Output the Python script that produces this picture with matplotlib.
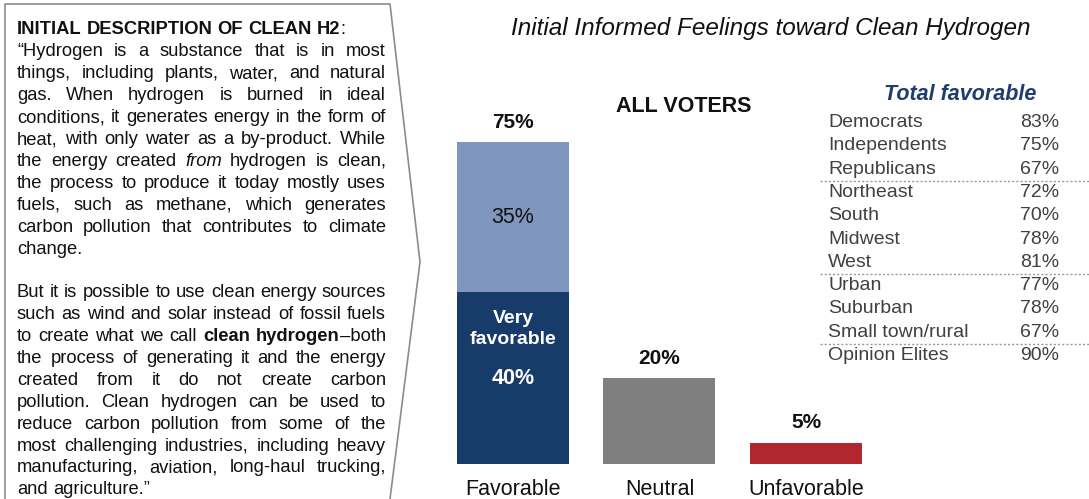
import re
import matplotlib
matplotlib.use("Agg")
import matplotlib.pyplot as plt

plt.rcParams['font.family'] = ['Liberation Sans', 'DejaVu Sans']

W, H = 1089, 499

# bar data (percent)
categories = ["Favorable", "Neutral", "Unfavorable"]
very_favorable = 40
somewhat_favorable = 35
neutral = 20
unfavorable = 5

# subgroup table (total favorable)
groups = ["Democrats", "Independents", "Republicans", "Northeast", "South",
          "Midwest", "West", "Urban", "Suburban", "Small town/rural", "Opinion Elites"]
group_fav = [83, 75, 67, 72, 70, 78, 81, 77, 78, 67, 90]
group_breaks = [3, 7, 10]   # dotted line before these rows

# description text; *x* = italic, **x** = bold (per word), None = blank line
desc_lines = [
    ("**INITIAL** **DESCRIPTION** **OF** **CLEAN** **H2**:", False),
    ("\u201cHydrogen is a substance that is in most", True),
    ("things, including plants, water, and natural", True),
    ("gas. When hydrogen is burned in ideal", True),
    ("conditions, it generates energy in the form of", True),
    ("heat, with only water as a by-product. While", True),
    ("the energy created *from* hydrogen is clean,", True),
    ("the process to produce it today mostly uses", True),
    ("fuels, such as methane, which generates", True),
    ("carbon pollution that contributes to climate", True),
    ("change.", False),
    (None, False),
    ("But it is possible to use clean energy sources", True),
    ("such as wind and solar instead of fossil fuels", True),
    ("to create what we call **clean** **hydrogen**\u2013both", True),
    ("the process of generating it and the energy", True),
    ("created from it do not create carbon", True),
    ("pollution. Clean hydrogen can be used to", True),
    ("reduce carbon pollution from some of the", True),
    ("most challenging industries, including heavy", True),
    ("manufacturing, aviation, long-haul trucking,", True),
    ("and agriculture.\u201d", False),
]

C_LIGHT = "#7F96BE"
C_NAVY = "#173C6A"
C_GREY = "#7F7F7F"
C_RED = "#B2272D"
C_TXT = "#404040"

fig = plt.figure(figsize=(W / 100, H / 100), dpi=100)
renderer = fig.canvas.get_renderer()


def fx(x):
    return x / W


def fy(y):
    return 1 - y / H


# --- outline box with arrow point ---
fig.add_artist(plt.Line2D([fx(5), fx(5), fx(390), fx(420), fx(390)],
                          [fy(499), fy(4), fy(4), fy(262), fy(499)],
                          color="#8C8C8C", lw=1.2))

# --- justified description text ---
FS = 13.2
STYLES = {"n": dict(), "b": dict(fontweight="bold"), "i": dict(fontstyle="italic")}


def parse_word(w):
    segs = []
    for m in re.findall(r"\*\*[^*]+\*\*|\*[^*]+\*|[^*]+", w):
        if m.startswith("**"):
            segs.append((m[2:-2], "b"))
        elif m.startswith("*"):
            segs.append((m[1:-1], "i"))
        else:
            segs.append((m, "n"))
    return segs


def seg_width(t, st):
    tx = fig.text(0, 0, t, fontsize=FS, **STYLES[st])
    w = tx.get_window_extent(renderer).width
    tx.remove()
    return w


space_w = seg_width("a a", "n") - seg_width("aa", "n")
x_left, x_right = 17, 386
y0, dy = 28, 21.9
for k, (line, just) in enumerate(desc_lines):
    if line is None:
        continue
    yb = y0 + k * dy + 6.5
    words = [parse_word(w) for w in line.split(" ")]
    widths = [[seg_width(t, st) for t, st in wd] for wd in words]
    total = sum(sum(ws) for ws in widths)
    gap = space_w
    if just and len(words) > 1:
        gap = (x_right - x_left - total) / (len(words) - 1)
    x = x_left
    for wd, ws in zip(words, widths):
        for (t, st), w in zip(wd, ws):
            fig.text(fx(x), fy(yb), t, fontsize=FS, va="baseline", ha="left",
                     color="#111111", **STYLES[st])
            x += w
        x += gap

# --- title and headers ---
fig.text(fx(771), fy(28), "Initial Informed Feelings toward Clean Hydrogen",
         fontsize=17.5, fontstyle="italic", ha="center", va="center", color="#111111")
fig.text(fx(684), fy(107), "ALL VOTERS", fontsize=15.5, fontweight="bold",
         ha="center", va="center", color="#111111")

# --- bars ---
ax = fig.add_axes([fx(440), fy(464), 440 / W, 400 / H])
px_per = 322 / 75
ax.set_ylim(0, 400 / px_per)
ax.set_xlim(-0.498, 2.505)
bw = 112 / 146.5
ax.bar(0, very_favorable, width=bw, color=C_NAVY)
ax.bar(0, somewhat_favorable, width=bw, bottom=very_favorable, color=C_LIGHT)
ax.bar(1, neutral, width=bw, color=C_GREY)
ax.bar(2, unfavorable, width=bw, color=C_RED)

totals = [very_favorable + somewhat_favorable, neutral, unfavorable]
for i, v in enumerate(totals):
    ax.annotate(f"{v}%", (i, v), xytext=(0, 20), textcoords="offset pixels",
                ha="center", va="center", fontsize=15, fontweight="bold", color="#111111")

ax.text(0, very_favorable + somewhat_favorable / 2, f"{somewhat_favorable}%",
        ha="center", va="center", fontsize=15.5, color="#111111")
ax.annotate(f"{very_favorable}%", (0, very_favorable / 2), xytext=(0, 0),
            textcoords="offset pixels", ha="center", va="center",
            fontsize=15.5, fontweight="bold", color="white")
ax.annotate("Very\nfavorable", (0, very_favorable / 2), xytext=(0, 49),
            textcoords="offset pixels", ha="center", va="center", linespacing=1.35,
            fontsize=14, fontweight="bold", color="white")

ax.set_xticks(range(len(categories)))
ax.set_xticklabels(categories, fontsize=15.5, color="#111111")
ax.tick_params(axis="x", length=0, pad=11)
ax.set_yticks([])
for s in ax.spines.values():
    s.set_visible(False)
ax.patch.set_alpha(0)

# --- subgroup table ---
fig.text(fx(960), fy(95), "Total favorable", fontsize=15.5, fontweight="bold",
         fontstyle="italic", ha="center", va="center", color="#1F3D6E")
row0, rdy = 121, 23.3
for j, (g, v) in enumerate(zip(groups, group_fav)):
    yc = row0 + j * rdy
    fig.text(fx(828), fy(yc + 6), g, fontsize=14, ha="left", va="baseline", color=C_TXT)
    fig.text(fx(1059), fy(yc + 6), f"{v}%", fontsize=14, ha="right", va="baseline", color=C_TXT)
for b in group_breaks:
    yl = row0 + (b - 0.5) * rdy + 1.5
    fig.add_artist(plt.Line2D([fx(820), fx(1089)], [fy(yl), fy(yl)],
                              color="#9A9A9A", lw=1, ls=(0, (1.5, 1.5))))

fig.savefig("out.png", dpi=100)
